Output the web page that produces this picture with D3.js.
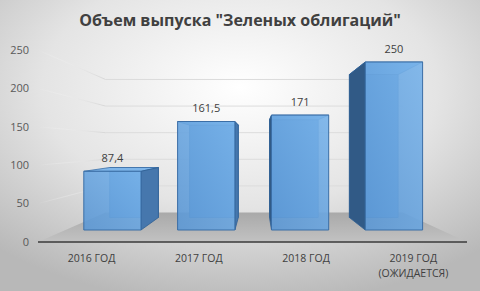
<!DOCTYPE html>
<html>
<head>
<meta charset="utf-8">
<script src="https://cdn.jsdelivr.net/npm/d3@7"></script>
<style>
  body { margin: 0; }
  svg { display: block; }
</style>
</head>
<body>
<script>
// data
var categories = ["2016 ГОД", "2017 ГОД", "2018 ГОД", "2019 ГОД"];
var subLabels = ["", "", "", "(ОЖИДАЕТСЯ)"];
var values = [87.4, 161.5, 171, 250];
var valueLabels = ["87,4", "161,5", "171", "250"];
var yTicks = [0, 50, 100, 150, 200, 250];

var W = 480, H = 291;

var svg = d3.select("body").append("svg")
    .attr("width", W)
    .attr("height", H);

var defs = svg.append("defs");

var bg = defs.append("radialGradient").attr("id", "bg")
    .attr("cx", "50%").attr("cy", "30%").attr("r", "75%");
bg.append("stop").attr("offset", "0%").attr("stop-color", "#ffffff");
bg.append("stop").attr("offset", "55%").attr("stop-color", "#e4e4e4");
bg.append("stop").attr("offset", "100%").attr("stop-color", "#b8b8b8");

var fl = defs.append("linearGradient").attr("id", "floor")
    .attr("x1", "0").attr("y1", "0").attr("x2", "0").attr("y2", "1");
fl.append("stop").attr("offset", "0%").attr("stop-color", "#a9a9a9");
fl.append("stop").attr("offset", "100%").attr("stop-color", "#c2c2c2");

var fr = defs.append("linearGradient").attr("id", "front")
    .attr("x1", "0").attr("y1", "1").attr("x2", "1").attr("y2", "0");
fr.append("stop").attr("offset", "0%").attr("stop-color", "#5b97d4");
fr.append("stop").attr("offset", "100%").attr("stop-color", "#78b3ea");

var wl = defs.append("linearGradient").attr("id", "wallLine")
    .attr("gradientUnits", "userSpaceOnUse")
    .attr("x1", 38).attr("y1", 0).attr("x2", 106).attr("y2", 0);
wl.append("stop").attr("offset", "0%").attr("stop-color", "#ffffff").attr("stop-opacity", 0);
wl.append("stop").attr("offset", "100%").attr("stop-color", "#d6d6d6");

svg.append("rect").attr("width", W).attr("height", H).attr("fill", "url(#bg)");

// perspective: front plane scales, then shrink toward vanishing point
var x = d3.scaleBand().domain(categories).range([38, 467])
    .paddingInner(0.39).paddingOuter(0.195);
var y = d3.scaleLinear().domain([0, 250]).range([242, 50]);

var cx = 258, cy = 146;
var sWall = 0.693, sBarFront = 0.875, sBarBack = 0.745;

function P(px, v, s) {
    return [cx + s * (px - cx), cy + s * (y(v) - cy)];
}
function poly(pts) {
    return pts.map(function (p) { return p[0].toFixed(1) + "," + p[1].toFixed(1); }).join(" ");
}

var x0 = x.range()[0], x1 = x.range()[1];

// floor
svg.append("polygon")
    .attr("points", poly([P(x0, 0, 1), P(x1, 0, 1), P(x1, 0, sWall), P(x0, 0, sWall)]))
    .attr("fill", "url(#floor)");

// back wall grid lines
svg.selectAll(".grid").data(yTicks.slice(1)).enter().append("line")
    .attr("x1", function (d) { return P(x0, d, sWall)[0]; })
    .attr("y1", function (d) { return P(x0, d, sWall)[1]; })
    .attr("x2", function (d) { return P(x1, d, sWall)[0]; })
    .attr("y2", function (d) { return P(x1, d, sWall)[1]; })
    .attr("stroke", "#dcdcdc")
    .attr("stroke-width", 1);

// left wall grid lines
svg.selectAll(".lgrid").data(yTicks.slice(1)).enter().append("line")
    .attr("x1", function (d) { return P(x0, d, 1)[0]; })
    .attr("y1", function (d) { return P(x0, d, 1)[1]; })
    .attr("x2", function (d) { return P(x0, d, sWall)[0]; })
    .attr("y2", function (d) { return P(x0, d, sWall)[1]; })
    .attr("stroke", "url(#wallLine)")
    .attr("stroke-width", 1);

// bars
var bars = svg.selectAll(".bar").data(values).enter().append("g");

bars.each(function (v, i) {
    var g = d3.select(this);
    var a = x(categories[i]), b = a + x.bandwidth();
    var fa0 = P(a, 0, sBarFront), fb0 = P(b, 0, sBarFront),
        fa1 = P(a, v, sBarFront), fb1 = P(b, v, sBarFront);
    var ba0 = P(a, 0, sBarBack), bb0 = P(b, 0, sBarBack),
        ba1 = P(a, v, sBarBack), bb1 = P(b, v, sBarBack);

    // back face
    g.append("polygon").attr("points", poly([ba0, bb0, bb1, ba1]))
        .attr("fill", "#5d97d3").attr("stroke", "#3b6ea6").attr("stroke-width", 0.8);
    // top
    g.append("polygon").attr("points", poly([fa1, fb1, bb1, ba1]))
        .attr("fill", "#7fb6ea").attr("stroke", "#3b6ea6").attr("stroke-width", 0.8);
    // visible side
    var side;
    if (fb0[0] < cx) side = [fb0, bb0, bb1, fb1];
    else side = [fa0, ba0, ba1, fa1];
    g.append("polygon").attr("points", poly(side))
        .attr("fill", fb0[0] < cx ? "#4677ad" : "#315a86")
        .attr("stroke", "#2f5f93").attr("stroke-width", 0.8);
    // front face
    g.append("polygon").attr("points", poly([fa0, fb0, fb1, fa1]))
        .attr("fill", "url(#front)").attr("fill-opacity", 0.9)
        .attr("stroke", "#3b6ea6").attr("stroke-width", 1);

    g.append("text")
        .attr("x", (fa1[0] + fb1[0]) / 2)
        .attr("y", fa1[1] - 9)
        .attr("text-anchor", "middle")
        .attr("font-family", "Open Sans, sans-serif")
        .attr("font-size", 11)
        .attr("fill", "#404040")
        .text(valueLabels[i]);
});

// base axis line
svg.append("line")
    .attr("x1", x0).attr("x2", x1)
    .attr("y1", y(0)).attr("y2", y(0))
    .attr("stroke", "#3a3a3a").attr("stroke-width", 1.5);

// y labels
svg.selectAll(".ylab").data(yTicks).enter().append("text")
    .attr("x", 29)
    .attr("y", function (d) { return y(d); })
    .attr("dy", "0.35em")
    .attr("text-anchor", "end")
    .attr("font-family", "Open Sans, sans-serif")
    .attr("font-size", 11)
    .attr("fill", "#595959")
    .text(function (d) { return d; });

// category labels
var cat = svg.selectAll(".cat").data(categories).enter().append("text")
    .attr("x", function (d) { return x(d) + x.bandwidth() / 2; })
    .attr("y", 262)
    .attr("text-anchor", "middle")
    .attr("font-family", "Open Sans, sans-serif")
    .attr("font-size", 10.5)
    .attr("fill", "#404040");
cat.append("tspan").text(function (d) { return d; });
cat.append("tspan")
    .attr("x", function (d) { return x(d) + x.bandwidth() / 2; })
    .attr("dy", 15)
    .text(function (d, i) { return subLabels[i]; });

// title
svg.append("text")
    .attr("x", 240).attr("y", 26)
    .attr("text-anchor", "middle")
    .attr("font-family", "Open Sans, sans-serif")
    .attr("font-weight", "bold")
    .attr("font-size", 16)
    .attr("fill", "#404040")
    .text("Объем выпуска \"Зеленых облигаций\"");
</script>
</body>
</html>
